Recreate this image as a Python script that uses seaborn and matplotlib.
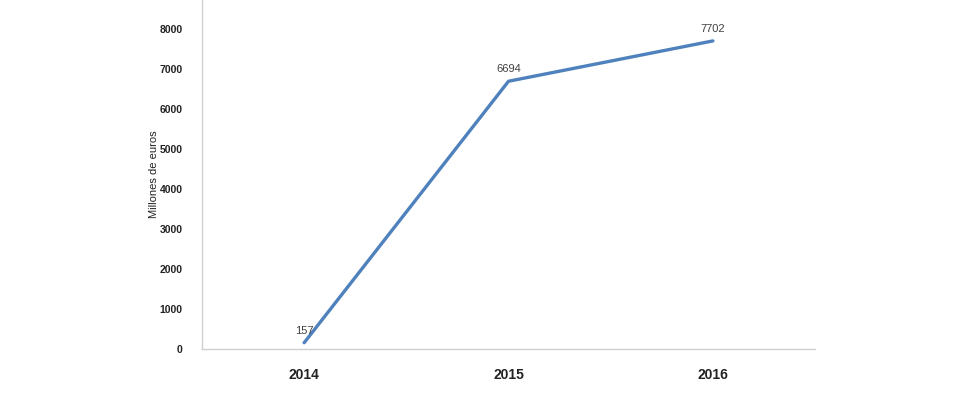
import matplotlib
matplotlib.use("Agg")
import matplotlib.pyplot as plt
import pandas as pd
import seaborn as sns

years = ["2014", "2015", "2016"]
values = [157, 6694, 7702]
y_ticks = [0, 1000, 2000, 3000, 4000, 5000, 6000, 7000, 8000]


def plot_chart() -> None:
    df = pd.DataFrame({"Year": years, "Value": values})

    sns.set_style("white")
    plt.rcParams["font.family"] = ["Liberation Sans", "DejaVu Sans"]

    fig = plt.figure(figsize=(9.6, 4.0), dpi=100)
    ax = fig.add_axes([0.2104, 0.1275, 0.6386, 0.8725])

    sns.lineplot(data=df, x="Year", y="Value", color="#4F81BD", linewidth=2.4, ax=ax, sort=False)

    for i, v in enumerate(values):
        ax.annotate(str(v), (i, v), xytext=(0, 5), textcoords="offset points",
                    ha="center", va="bottom", fontsize=8, color="#404040")

    ax.set_xlim(-0.5, 2.5)
    ax.set_ylim(0, 8725)
    ax.set_yticks(y_ticks)
    ax.set_yticklabels([str(t) for t in y_ticks], fontsize=7.5, fontweight="bold", color="#222222")
    ax.set_xticks(range(len(years)))
    ax.set_xticklabels(years, fontsize=10, fontweight="bold", color="#222222")
    ax.tick_params(axis="x", length=0, pad=14)
    ax.tick_params(axis="y", length=0, pad=14)
    ax.set_xlabel("")
    ax.set_ylabel("Millones de euros", fontsize=8, color="#222222", labelpad=0)

    for side in ["top", "right"]:
        ax.spines[side].set_visible(False)
    for side in ["left", "bottom"]:
        ax.spines[side].set_color("#D0D0D0")
        ax.spines[side].set_linewidth(1)

    fig.savefig("out.png", dpi=100)


if __name__ == "__main__":
    plot_chart()
